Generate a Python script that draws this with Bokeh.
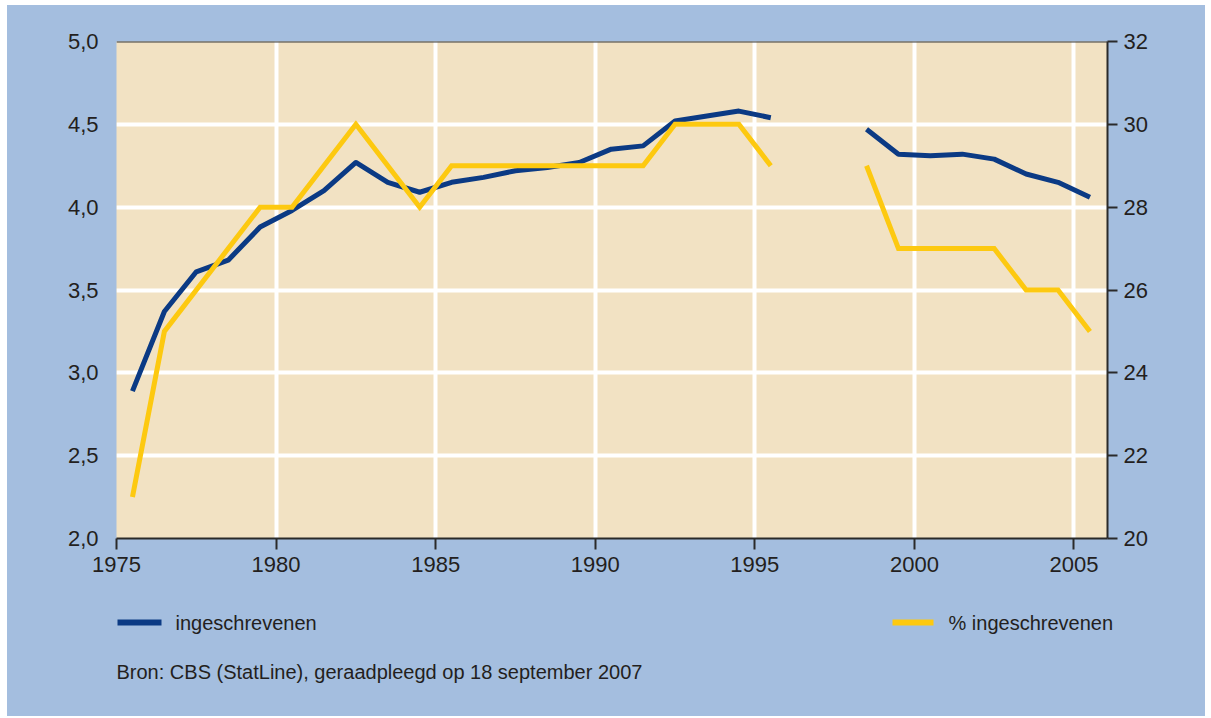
from bokeh.plotting import figure
from bokeh.layouts import column
from bokeh.models import (LinearAxis, Range1d, FixedTicker, CustomJSTickFormatter, Span)
from bokeh.core.properties import value
from bokeh.embed import file_html
from bokeh.resources import INLINE

nan = float("nan")

years = list(range(1975, 2006))
ingeschrevenen = [2.89, 3.37, 3.61, 3.68, 3.88, 3.98, 4.10, 4.27, 4.15, 4.09,
                  4.15, 4.18, 4.22, 4.24, 4.27, 4.35, 4.37, 4.52, 4.55, 4.58,
                  4.54, nan, nan, 4.47, 4.32, 4.31, 4.32, 4.29, 4.20, 4.15, 4.06]
pct_ingeschrevenen = [21, 25, 26, 27, 28, 28, 29, 30, 29, 28,
                      29, 29, 29, 29, 29, 29, 29, 30, 30, 30,
                      29, nan, nan, 29, 27, 27, 27, 27, 26, 26, 25]
x_ticks = [1975, 1980, 1985, 1990, 1995, 2000, 2005]
left_ticks = [2.0, 2.5, 3.0, 3.5, 4.0, 4.5, 5.0]
right_ticks = [20, 22, 24, 26, 28, 30, 32]
legend_labels = ["ingeschrevenen", "% ingeschrevenen"]
source_text = "Bron: CBS (StatLine), geraadpleegd op 18 september 2007"

FONT = "Liberation Sans"
TXT = "#231f20"
BLUE = "#0b3a84"
YELLOW = "#fdc910"
BG = "#a4bedf"
BEIGE = "#f2e2c3"
AX = "#2a2a2a"

W = 1198

# values are annual figures drawn at mid-year
xs = [y + 0.5 for y in years]

p = figure(width=W, height=585, output_backend="svg", toolbar_location=None,
           x_range=Range1d(1975, 2006.05), y_range=Range1d(2.0, 5.0),
           min_border_left=109, min_border_right=98, min_border_top=36,
           min_border_bottom=52)
p.frame_align = False
p.extra_y_ranges = {"pct": Range1d(20, 32)}

p.background_fill_color = BEIGE
p.border_fill_color = BG
p.outline_line_color = None

# bottom axis
xa = p.xaxis[0]
xa.ticker = FixedTicker(ticks=x_ticks)
xa.minor_tick_line_color = None
xa.major_tick_in = 0
xa.major_tick_out = 11
xa.major_tick_line_width = 2
xa.major_tick_line_color = AX
xa.axis_line_color = AX
xa.axis_line_width = 2
xa.major_label_standoff = 7
xa.major_label_text_font = FONT
xa.major_label_text_font_size = "22px"
xa.major_label_text_color = TXT

# left axis
ya = p.yaxis[0]
ya.ticker = FixedTicker(ticks=left_ticks)
ya.formatter = CustomJSTickFormatter(code="return tick.toFixed(1).replace('.', ',');")
ya.axis_line_color = None
ya.major_tick_line_color = None
ya.minor_tick_line_color = None
ya.major_tick_out = 0
ya.major_tick_in = 0
ya.major_label_standoff = 18
ya.major_label_text_font = FONT
ya.major_label_text_font_size = "22px"
ya.major_label_text_color = TXT

# right axis
ra = LinearAxis(y_range_name="pct", ticker=FixedTicker(ticks=right_ticks))
ra.axis_line_color = AX
ra.axis_line_width = 2
ra.major_tick_line_color = AX
ra.major_tick_line_width = 2
ra.major_tick_in = 0
ra.major_tick_out = 10
ra.minor_tick_line_color = None
ra.major_label_standoff = 6
ra.major_label_text_font = FONT
ra.major_label_text_font_size = "22px"
ra.major_label_text_color = TXT
p.add_layout(ra, "right")

# grids
p.xgrid.ticker = FixedTicker(ticks=x_ticks)
p.xgrid.grid_line_color = "white"
p.xgrid.grid_line_width = 4
p.ygrid.grid_line_color = "white"
p.ygrid.grid_line_width = 4

# top border line
p.add_layout(Span(location=5.0, dimension="width", line_color="#3a3a3a", line_width=2))

p.line(xs, ingeschrevenen, line_color=BLUE, line_width=5, line_join="round")
p.line(xs, pct_ingeschrevenen, y_range_name="pct", line_color=YELLOW,
       line_width=5, line_join="miter")

# legend + source panel (pixel-like coordinates, y downward)
H2 = 126
q = figure(width=W, height=H2, output_backend="svg", toolbar_location=None,
           x_range=Range1d(0, W), y_range=Range1d(H2, 0),
           min_border=0, min_border_left=0, min_border_right=0,
           min_border_top=0, min_border_bottom=0,
           x_axis_location=None, y_axis_location=None)
q.frame_align = False
q.background_fill_color = BG
q.border_fill_color = BG
q.outline_line_color = None
q.xgrid.visible = False
q.ygrid.visible = False

q.segment(x0=[110, 885], y0=[32, 32], x1=[154, 926], y1=[32, 32],
          line_color=[BLUE, YELLOW], line_width=6)
q.text(x=[168, 941], y=[32, 32], text=legend_labels,
       text_font=value(FONT), text_font_size="20px", text_color=TXT,
       text_baseline="middle", text_align="left")
q.text(x=[109], y=[81], text=[source_text],
       text_font=value(FONT), text_font_size="20px", text_color=TXT,
       text_baseline="middle", text_align="left")

layout = column(p, q, spacing=0, margin=(5, 0, 0, 7),
                styles={"background-color": BG})

open("out.html", "w").write(file_html(layout, INLINE))
